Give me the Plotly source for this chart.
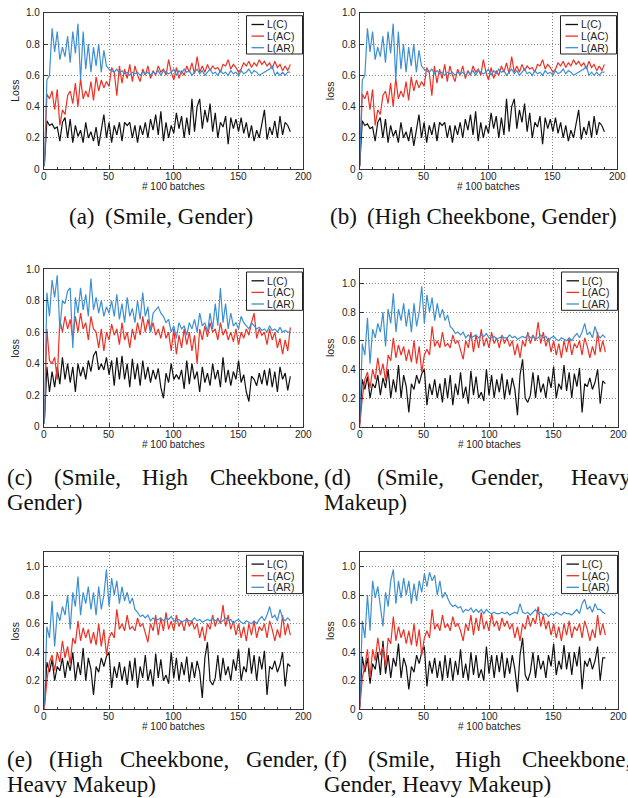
import plotly.graph_objects as go

# x positions (# 100 batches), every 2 units
X = list(range(0, 191, 2))

# ---- (a) / (b) (Smile, Gender) ----
A_C = [0.02, 0.31, 0.28, 0.29, 0.26, 0.27, 0.18, 0.30, 0.33, 0.20,
       0.32, 0.17, 0.28, 0.21, 0.25, 0.17, 0.30, 0.20, 0.24, 0.18,
       0.27, 0.15, 0.25, 0.35, 0.20, 0.30, 0.17, 0.28, 0.22, 0.30,
       0.18, 0.30, 0.28, 0.30, 0.20, 0.28, 0.17, 0.28, 0.22, 0.30,
       0.20, 0.32, 0.25, 0.35, 0.22, 0.37, 0.18, 0.30, 0.20, 0.28,
       0.23, 0.36, 0.26, 0.34, 0.20, 0.33, 0.22, 0.45, 0.24, 0.40,
       0.45, 0.26, 0.38, 0.30, 0.42, 0.24, 0.36, 0.20, 0.30, 0.27,
       0.34, 0.16, 0.33, 0.26, 0.32, 0.24, 0.33, 0.23, 0.30, 0.20,
       0.28, 0.18, 0.25, 0.20, 0.29, 0.38, 0.19, 0.27, 0.22, 0.31,
       0.20, 0.34, 0.22, 0.30, 0.28, 0.24]
A_AC = [0.02, 0.48, 0.45, 0.50, 0.38, 0.51, 0.28, 0.38, 0.35, 0.47,
        0.50, 0.42, 0.55, 0.40, 0.58, 0.45, 0.50, 0.46, 0.56, 0.44,
        0.59, 0.50, 0.57, 0.52, 0.56, 0.53, 0.65, 0.62, 0.47, 0.66,
        0.55, 0.64, 0.58, 0.67, 0.56, 0.66, 0.60, 0.56, 0.64, 0.60,
        0.66, 0.58, 0.63, 0.60, 0.66, 0.62, 0.64, 0.60, 0.70, 0.62,
        0.57, 0.65, 0.58, 0.63, 0.60, 0.66, 0.62, 0.68, 0.61, 0.72,
        0.62, 0.66, 0.62, 0.67, 0.63, 0.66, 0.64, 0.65, 0.62, 0.67,
        0.66, 0.70, 0.64, 0.67, 0.65, 0.62, 0.64, 0.68, 0.66, 0.69,
        0.65, 0.68, 0.66, 0.70, 0.67, 0.69, 0.66, 0.68, 0.64, 0.69,
        0.65, 0.67, 0.63, 0.66, 0.63, 0.67]
A_AR = [0.02, 0.57, 0.60, 0.90, 0.75, 0.88, 0.70, 0.78, 0.72, 0.85,
        0.68, 0.88, 0.74, 0.93, 0.57, 0.88, 0.64, 0.80, 0.62, 0.78,
        0.66, 0.80, 0.62, 0.76, 0.66, 0.64, 0.63, 0.62, 0.64, 0.61,
        0.63, 0.61, 0.62, 0.60, 0.62, 0.61, 0.62, 0.60, 0.62, 0.61,
        0.62, 0.60, 0.62, 0.61, 0.63, 0.60, 0.63, 0.62, 0.61, 0.62,
        0.64, 0.60, 0.63, 0.61, 0.64, 0.62, 0.63, 0.60, 0.62, 0.64,
        0.61, 0.63, 0.60, 0.62, 0.64, 0.61, 0.62, 0.60, 0.63, 0.61,
        0.62, 0.60, 0.63, 0.61, 0.62, 0.60, 0.63, 0.61, 0.62, 0.64,
        0.61, 0.63, 0.62, 0.60, 0.61, 0.62, 0.63, 0.64, 0.66, 0.60,
        0.62, 0.60, 0.62, 0.60, 0.62, 0.62]

# ---- (c) (Smile, High Cheekbone, Gender) ----
C_C = [0.02, 0.38, 0.22, 0.35, 0.25, 0.38, 0.27, 0.44, 0.30, 0.40,
       0.28, 0.38, 0.22, 0.40, 0.32, 0.38, 0.30, 0.42, 0.35, 0.45,
       0.48, 0.36, 0.40, 0.36, 0.44, 0.33, 0.42, 0.26, 0.44, 0.30,
       0.45, 0.30, 0.40, 0.25, 0.43, 0.30, 0.40, 0.26, 0.42, 0.30,
       0.38, 0.28, 0.36, 0.30, 0.37, 0.25, 0.18, 0.34, 0.28, 0.40,
       0.30, 0.33, 0.30, 0.36, 0.24, 0.42, 0.27, 0.40, 0.30, 0.35,
       0.22, 0.38, 0.28, 0.34, 0.26, 0.40, 0.30, 0.36, 0.25, 0.44,
       0.28, 0.36, 0.26, 0.35, 0.30, 0.42, 0.28, 0.33, 0.22, 0.16,
       0.32, 0.30, 0.26, 0.34, 0.27, 0.36, 0.26, 0.37, 0.25, 0.35,
       0.22, 0.38, 0.30, 0.34, 0.23, 0.32]
C_AC = [0.02, 0.62, 0.42, 0.40, 0.44, 0.30, 0.68, 0.60, 0.70, 0.62,
        0.68, 0.56, 0.70, 0.60, 0.72, 0.62, 0.66, 0.55, 0.70, 0.62,
        0.60, 0.50, 0.62, 0.48, 0.60, 0.55, 0.65, 0.58, 0.62, 0.52,
        0.66, 0.55, 0.60, 0.50, 0.62, 0.55, 0.66, 0.58, 0.70, 0.60,
        0.68, 0.60, 0.66, 0.58, 0.62, 0.56, 0.64, 0.56, 0.60, 0.48,
        0.62, 0.46, 0.58, 0.50, 0.62, 0.52, 0.60, 0.48, 0.58, 0.40,
        0.62, 0.55, 0.64, 0.57, 0.66, 0.60, 0.62, 0.55, 0.66, 0.58,
        0.62, 0.55, 0.60, 0.54, 0.62, 0.52, 0.60, 0.56, 0.62, 0.58,
        0.66, 0.72, 0.56, 0.62, 0.58, 0.60, 0.52, 0.62, 0.55, 0.60,
        0.50, 0.56, 0.46, 0.55, 0.48, 0.63]
C_AR = [0.02, 0.85, 0.70, 0.93, 0.82, 0.96, 0.62, 0.80, 0.78, 0.86,
        0.88, 0.50, 0.82, 0.72, 0.88, 0.74, 0.84, 0.70, 0.94, 0.74,
        0.82, 0.72, 0.80, 0.70, 0.76, 0.72, 0.80, 0.70, 0.84, 0.68,
        0.78, 0.66, 0.82, 0.70, 0.75, 0.66, 0.80, 0.68, 0.85, 0.70,
        0.76, 0.60, 0.72, 0.74, 0.76, 0.72, 0.70, 0.66, 0.68, 0.60,
        0.64, 0.56, 0.66, 0.62, 0.64, 0.58, 0.66, 0.62, 0.68, 0.60,
        0.72, 0.64, 0.66, 0.60, 0.72, 0.62, 0.78, 0.64, 0.88, 0.66,
        0.78, 0.62, 0.72, 0.64, 0.66, 0.62, 0.70, 0.66, 0.64, 0.62,
        0.66, 0.64, 0.62, 0.63, 0.61, 0.62, 0.60, 0.64, 0.61, 0.62,
        0.60, 0.63, 0.60, 0.61, 0.60, 0.60]

# ---- (d) / (e) ----
D_C = [0.02, 0.33, 0.26, 0.35, 0.20, 0.30, 0.27, 0.36, 0.22, 0.34,
       0.27, 0.40, 0.20, 0.33, 0.24, 0.43, 0.20, 0.36, 0.28, 0.10,
       0.30, 0.26, 0.36, 0.30, 0.37, 0.40, 0.15, 0.30, 0.22, 0.33,
       0.20, 0.30, 0.17, 0.34, 0.20, 0.36, 0.15, 0.30, 0.22, 0.38,
       0.20, 0.28, 0.16, 0.39, 0.22, 0.35, 0.20, 0.24, 0.18, 0.40,
       0.22, 0.36, 0.20, 0.33, 0.24, 0.37, 0.19, 0.33, 0.22, 0.34,
       0.26, 0.08, 0.36, 0.47, 0.20, 0.17, 0.22, 0.38, 0.20, 0.36,
       0.24, 0.30, 0.20, 0.35, 0.27, 0.42, 0.20, 0.30, 0.26, 0.43,
       0.25, 0.38, 0.20, 0.37, 0.28, 0.41, 0.10, 0.30, 0.28, 0.34,
       0.26, 0.31, 0.40, 0.16, 0.32, 0.30]
D_AC = [0.00, 0.20, 0.33, 0.38, 0.27, 0.40, 0.33, 0.48, 0.36, 0.44,
        0.32, 0.50, 0.46, 0.62, 0.48, 0.57, 0.50, 0.56, 0.46, 0.54,
        0.45, 0.60, 0.44, 0.56, 0.38, 0.50, 0.54, 0.50, 0.70, 0.56,
        0.60, 0.55, 0.66, 0.56, 0.58, 0.55, 0.64, 0.58, 0.60, 0.54,
        0.47, 0.60, 0.55, 0.66, 0.52, 0.64, 0.55, 0.68, 0.56, 0.62,
        0.55, 0.66, 0.58, 0.62, 0.55, 0.64, 0.58, 0.62, 0.56, 0.60,
        0.50, 0.58, 0.48, 0.60, 0.56, 0.66, 0.58, 0.64, 0.60, 0.73,
        0.58, 0.66, 0.56, 0.62, 0.52, 0.60, 0.50, 0.58, 0.48, 0.60,
        0.52, 0.62, 0.50, 0.58, 0.55, 0.60, 0.50, 0.62, 0.56, 0.48,
        0.56, 0.50, 0.66, 0.52, 0.60, 0.52]
D_AR = [0.02, 0.58, 0.50, 0.76, 0.44, 0.68, 0.62, 0.72, 0.66, 0.80,
        0.56, 0.82, 0.72, 0.93, 0.66, 0.82, 0.74, 0.86, 0.70, 0.82,
        0.66, 0.86, 0.70, 0.80, 0.98, 0.72, 0.92, 0.80, 0.90, 0.74,
        0.86, 0.76, 0.82, 0.74, 0.78, 0.70, 0.68, 0.65, 0.66, 0.64,
        0.66, 0.62, 0.64, 0.62, 0.63, 0.64, 0.62, 0.64, 0.63, 0.65,
        0.62, 0.62, 0.63, 0.61, 0.62, 0.63, 0.62, 0.62, 0.64, 0.62,
        0.63, 0.61, 0.62, 0.63, 0.62, 0.64, 0.62, 0.63, 0.61, 0.62,
        0.64, 0.62, 0.63, 0.60, 0.62, 0.63, 0.61, 0.60, 0.62, 0.61,
        0.60, 0.62, 0.60, 0.63, 0.65, 0.62, 0.66, 0.72, 0.64, 0.66,
        0.62, 0.70, 0.64, 0.62, 0.64, 0.62]

# ---- (f) ----
F_C = [0.02, 0.37, 0.26, 0.36, 0.18, 0.32, 0.28, 0.40, 0.24, 0.48,
       0.25, 0.38, 0.22, 0.36, 0.30, 0.46, 0.22, 0.36, 0.30, 0.14,
       0.30, 0.26, 0.38, 0.32, 0.40, 0.44, 0.16, 0.34, 0.25, 0.36,
       0.22, 0.34, 0.20, 0.38, 0.22, 0.36, 0.20, 0.34, 0.24, 0.42,
       0.22, 0.32, 0.20, 0.40, 0.24, 0.38, 0.22, 0.28, 0.20, 0.44,
       0.25, 0.38, 0.22, 0.38, 0.26, 0.40, 0.22, 0.36, 0.25, 0.38,
       0.28, 0.12, 0.38, 0.50, 0.24, 0.20, 0.26, 0.40, 0.22, 0.38,
       0.28, 0.34, 0.22, 0.38, 0.30, 0.46, 0.24, 0.34, 0.28, 0.45,
       0.28, 0.40, 0.24, 0.40, 0.30, 0.44, 0.14, 0.34, 0.30, 0.36,
       0.28, 0.34, 0.44, 0.20, 0.36, 0.36]
F_AC = [0.00, 0.22, 0.30, 0.42, 0.22, 0.42, 0.34, 0.50, 0.38, 0.44,
        0.30, 0.50, 0.46, 0.65, 0.48, 0.58, 0.50, 0.56, 0.46, 0.55,
        0.45, 0.60, 0.44, 0.56, 0.38, 0.50, 0.55, 0.50, 0.70, 0.56,
        0.60, 0.55, 0.66, 0.57, 0.60, 0.55, 0.65, 0.58, 0.60, 0.55,
        0.48, 0.60, 0.55, 0.66, 0.52, 0.64, 0.55, 0.68, 0.56, 0.62,
        0.55, 0.67, 0.58, 0.62, 0.55, 0.64, 0.58, 0.62, 0.56, 0.60,
        0.50, 0.58, 0.48, 0.60, 0.56, 0.66, 0.58, 0.64, 0.60, 0.72,
        0.58, 0.66, 0.56, 0.62, 0.52, 0.60, 0.50, 0.58, 0.48, 0.60,
        0.52, 0.62, 0.50, 0.58, 0.55, 0.60, 0.50, 0.62, 0.56, 0.48,
        0.56, 0.50, 0.66, 0.52, 0.60, 0.52]
F_AR = [0.02, 0.62, 0.50, 0.80, 0.55, 0.90, 0.78, 0.86, 0.72, 0.58,
        0.82, 0.72, 0.90, 0.98, 0.74, 0.90, 0.78, 0.92, 0.80, 0.90,
        0.74, 0.88, 0.76, 0.90, 0.82, 0.95, 0.86, 0.96, 0.90, 0.94,
        0.80, 0.90, 0.78, 0.82, 0.78, 0.74, 0.72, 0.73, 0.71, 0.72,
        0.68, 0.70, 0.69, 0.71, 0.68, 0.70, 0.68, 0.70, 0.67, 0.70,
        0.68, 0.67, 0.68, 0.67, 0.67, 0.68, 0.67, 0.68, 0.66, 0.67,
        0.68, 0.67, 0.74, 0.68, 0.67, 0.68, 0.66, 0.68, 0.70, 0.67,
        0.68, 0.66, 0.67, 0.65, 0.67, 0.66, 0.68, 0.67, 0.66, 0.68,
        0.67, 0.67, 0.66, 0.68, 0.70, 0.67, 0.74, 0.77, 0.70, 0.72,
        0.68, 0.74, 0.70, 0.70, 0.68, 0.67]

SERIES_NAMES = ["L(C)", "L(AC)", "L(AR)"]
COLORS = ["#111111", "#ee3124", "#3d8fd1"]
X_TICKS = [0, 50, 100, 150, 200]
X_TICKTEXT = ["0", "50", "100", "150", "200"]
Y_TICKS = [0, 0.2, 0.4, 0.6, 0.8, 1.0]
Y_TICKTEXT = ["0", "0.2", "0.4", "0.6", "0.8", "1.0"]

CAPTIONS = [
    dict(lines=[["(a)", "(Smile, Gender)"]], left=68, right=None, y=216, gap=10),
    dict(lines=[["(b)", "(High Cheekbone, Gender)"]], left=329, right=None, y=216, gap=10),
    dict(lines=[["(c)", "(Smile,", "High", "Cheekbone,"], ["Gender)"]], left=6, right=318, y=477),
    dict(lines=[["(d)", "(Smile,", "Gender,", "Heavy"], ["Makeup)"]], left=323, right=630, y=477),
    dict(lines=[["(e)", "(High", "Cheekbone,", "Gender,"], ["Heavy Makeup)"]], left=6, right=318, y=759),
    dict(lines=[["(f)", "(Smile,", "High", "Cheekbone,"], ["Gender, Heavy Makeup)"]], left=323, right=630, y=759),
]

W, H = 628, 798
SANS = "Liberation Sans, Arial, Helvetica, sans-serif"
SERIF = "Liberation Serif, Times New Roman, serif"
CAP_SIZE = 23
LINE_STEP = 25

# Times advance widths (1/1000 em) for justification
TIMES_W = {" ": 250, "(": 333, ")": 333, ",": 250, "a": 444, "b": 500, "c": 444,
           "d": 500, "e": 444, "f": 333, "g": 500, "h": 500, "i": 278, "k": 500,
           "l": 278, "m": 778, "n": 500, "o": 500, "p": 500, "r": 333, "s": 389,
           "u": 500, "v": 500, "y": 500, "G": 722, "H": 722, "C": 667, "M": 889,
           "S": 556}


def text_w(s, size):
    return sum(TIMES_W.get(c, 500) for c in s) * size / 1000.0


panels = [
    dict(data=(A_C, A_AC, A_AR), x0=44.3, x1=303.3, y0=12.7, y1=169.3, ymax=1.0,
         ytitle="Loss", xtitle="# 100 batches"),
    dict(data=(A_C, A_AC, A_AR), x0=359.7, x1=617.3, y0=12.7, y1=169.3, ymax=1.0,
         ytitle="loss", xtitle="# 100 batches"),
    dict(data=(C_C, C_AC, C_AR), x0=44.3, x1=303.3, y0=269.0, y1=426.7, ymax=1.0,
         ytitle="loss", xtitle="# 100 batches"),
    dict(data=(D_C, D_AC, D_AR), x0=359.7, x1=618.3, y0=269.0, y1=426.7, ymax=1.1,
         ytitle="loss", xtitle="# 100 btaches"),
    dict(data=(D_C, D_AC, D_AR), x0=44.3, x1=303.3, y0=552.3, y1=709.3, ymax=1.1,
         ytitle="loss", xtitle="# 100 batches"),
    dict(data=(F_C, F_AC, F_AR), x0=359.7, x1=618.3, y0=552.3, y1=709.3, ymax=1.1,
         ytitle="loss", xtitle="# 100 batches"),
]


def px(x):
    return x / W


def py(y):
    return 1 - y / H


fig = go.Figure()
layout = dict(width=W, height=H, margin=dict(l=0, r=0, t=0, b=0),
              paper_bgcolor="white", plot_bgcolor="white", showlegend=False)
shapes = []
annotations = []
tick_font = dict(family=SANS, size=10, color="#222")

for i, p in enumerate(panels, start=1):
    sfx = "" if i == 1 else str(i)
    for vals, nm, col in zip(p["data"], SERIES_NAMES, COLORS):
        fig.add_trace(go.Scatter(x=X, y=vals, mode="lines", name=nm,
                                 line=dict(color=col, width=1.2),
                                 xaxis="x" + sfx, yaxis="y" + sfx,
                                 hoverinfo="skip"))
    common = dict(showline=True, mirror=True, linecolor="#333", linewidth=1,
                  showgrid=True, gridcolor="#8a8a8a", griddash="1px,2px", gridwidth=1,
                  zeroline=False, ticks="inside", ticklen=4, tickcolor="#333",
                  showticklabels=False)
    layout["xaxis" + sfx] = dict(common, domain=[px(p["x0"]), px(p["x1"])],
                                 range=[0, 200], anchor="y" + sfx,
                                 tickvals=X_TICKS,
                                 minor=dict(dtick=10, ticks="inside", ticklen=2,
                                            tickcolor="#333", showgrid=False))
    layout["yaxis" + sfx] = dict(common, domain=[py(p["y1"]), py(p["y0"])],
                                 range=[0, p["ymax"]], anchor="x" + sfx,
                                 tickvals=Y_TICKS)
    # tick labels placed on the axis scales
    for v, t in zip(X_TICKS, X_TICKTEXT):
        annotations.append(dict(x=v, xref="x" + sfx, y=py(p["y1"] + 7.6), yref="paper",
                                text=t, showarrow=False, font=tick_font,
                                xanchor="center", yanchor="middle", borderpad=0))
    for v, t in zip(Y_TICKS, Y_TICKTEXT):
        annotations.append(dict(x=px(p["x0"] - 3.2), xref="paper", y=v, yref="y" + sfx,
                                text=t, showarrow=False, font=tick_font,
                                xanchor="right", yanchor="middle", borderpad=0))
    # axis titles
    annotations.append(dict(x=px(p["x0"] - 29.5), y=py((p["y0"] + p["y1"]) / 2),
                            xref="paper", yref="paper", text=p["ytitle"],
                            textangle=-90, showarrow=False,
                            font=dict(family=SANS, size=10.5, color="#222"),
                            xanchor="center", yanchor="middle"))
    annotations.append(dict(x=px((p["x0"] + p["x1"]) / 2), y=py(p["y1"] + 17.6),
                            xref="paper", yref="paper", text=p["xtitle"],
                            showarrow=False,
                            font=dict(family=SANS, size=10, color="#222"),
                            xanchor="center", yanchor="middle", borderpad=0))
    # legend box
    R = p["x1"] - 0.8
    top = p["y0"] + 3
    shapes.append(dict(type="rect", xref="paper", yref="paper",
                       x0=px(R - 56), x1=px(R), y0=py(top + 38.3), y1=py(top),
                       line=dict(color="#222", width=1), fillcolor="white",
                       layer="above"))
    for k, (nm, col) in enumerate(zip(SERIES_NAMES, COLORS)):
        yy = top + 8.8 + k * 11.6
        shapes.append(dict(type="line", xref="paper", yref="paper",
                           x0=px(R - 51), x1=px(R - 38.5), y0=py(yy), y1=py(yy),
                           line=dict(color=col, width=1.3), layer="above"))
        annotations.append(dict(x=px(R - 36.5), y=py(yy), xref="paper", yref="paper",
                                text=nm, showarrow=False,
                                font=dict(family=SANS, size=10.5, color="#222"),
                                xanchor="left", yanchor="middle", borderpad=0))

# captions: justified word placement computed from font metrics
for cap in CAPTIONS:
    nlines = len(cap["lines"])
    for li, words in enumerate(cap["lines"]):
        yc = cap["y"] + li * LINE_STEP
        widths = [text_w(w, CAP_SIZE) for w in words]
        last = li == nlines - 1
        if cap["right"] is not None and not last and len(words) > 1:
            gap = (cap["right"] - cap["left"] - sum(widths)) / (len(words) - 1)
        else:
            gap = cap.get("gap", CAP_SIZE * 0.25)
        xw = cap["left"]
        for w, wd in zip(words, widths):
            annotations.append(dict(x=px(xw), y=py(yc), xref="paper", yref="paper",
                                    text=w, showarrow=False, borderpad=0,
                                    font=dict(family=SERIF, size=CAP_SIZE, color="#111"),
                                    xanchor="left", yanchor="middle"))
            xw += wd + gap

layout["shapes"] = shapes
layout["annotations"] = annotations
fig.update_layout(**layout)
fig.write_html("out.html", config={"displayModeBar": False},
               post_script="document.body.style.margin='0';")
